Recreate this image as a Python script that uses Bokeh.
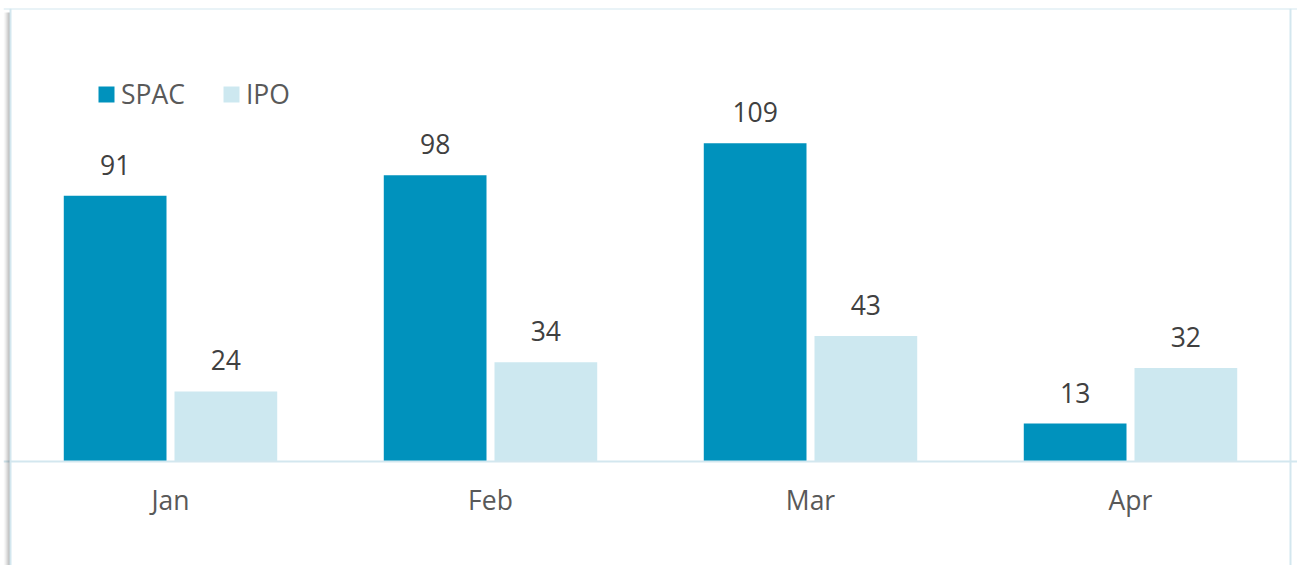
from bokeh.plotting import figure
from bokeh.models import (ColumnDataSource, FactorRange, Legend, LegendItem, Range1d,
                          Span, BoxAnnotation)
from bokeh.transform import dodge
from bokeh.core.properties import value
from bokeh.embed import file_html
from bokeh.resources import INLINE

months = ["Jan", "Feb", "Mar", "Apr"]
spac = [91, 98, 109, 13]
ipo = [24, 34, 43, 32]

SPAC_COLOR = "#0092BD"
IPO_COLOR = "#CDE8F0"
BORDER = "#D3E7EF"
FONT = "Open Sans"
FS = "26.5px"

source = ColumnDataSource(data=dict(
    month=months,
    spac=spac,
    ipo=ipo,
    spac_lbl=[str(v) for v in spac],
    ipo_lbl=[str(v) for v in ipo],
))

Y_END = 155.14
p = figure(
    x_range=FactorRange(factors=months, range_padding=0.021875, range_padding_units="absolute"),
    y_range=Range1d(-35.62, Y_END),
    width=1297, height=565,
    output_backend="svg", toolbar_location=None,
    y_axis_location=None,
    min_border_left=3, min_border_right=0, min_border_top=8, min_border_bottom=0,
    background_fill_color="white", border_fill_color="white",
)
p.outline_line_color = None
p.xgrid.visible = False
p.ygrid.visible = False

# soft shadow on the left of the chart box
for i, a in enumerate([0.02, 0.05, 0.09, 0.14, 0.20, 0.27, 0.33]):
    p.add_layout(BoxAnnotation(left=i, right=i + 1, top=553, bottom=0,
                               left_units="screen", right_units="screen",
                               top_units="screen", bottom_units="screen",
                               fill_color="black", fill_alpha=a, line_color=None))

# chart box borders (left, right, top)
for loc, dim in [(0, "height"), (len(months), "height"), (Y_END, "width")]:
    p.add_layout(Span(location=loc, dimension=dim, line_color=BORDER, line_width=2))

off = 0.173
bw = 0.321
r1 = p.vbar(x=dodge("month", -off, range=p.x_range), top="spac", width=bw,
            source=source, fill_color=SPAC_COLOR, line_color=None)
r2 = p.vbar(x=dodge("month", off, range=p.x_range), top="ipo", width=bw,
            source=source, fill_color=IPO_COLOR, line_color=None)

p.text(x=dodge("month", -off, range=p.x_range), y="spac", text="spac_lbl", source=source,
       y_offset=-31, text_align="center", text_baseline="alphabetic",
       text_font=value(FONT), text_font_size=FS, text_color="#404040")
p.text(x=dodge("month", off, range=p.x_range), y="ipo", text="ipo_lbl", source=source,
       y_offset=-31, text_align="center", text_baseline="alphabetic",
       text_font=value(FONT), text_font_size=FS, text_color="#404040")

xa = p.xaxis[0]
xa.fixed_location = 0
xa.axis_line_color = BORDER
xa.axis_line_width = 2
xa.major_tick_line_color = None
xa.minor_tick_line_color = None
xa.major_label_standoff = 15
xa.major_label_text_font = FONT
xa.major_label_text_font_size = FS
xa.major_label_text_color = "#595959"

legend = Legend(
    items=[LegendItem(label="SPAC", renderers=[r1]), LegendItem(label="IPO", renderers=[r2])],
    orientation="horizontal",
    location=(93, 453),
    padding=0, margin=0, spacing=36,
    glyph_width=20, glyph_height=20, label_standoff=5,
    label_text_font=FONT, label_text_font_size=FS, label_text_color="#595959",
    background_fill_alpha=0, border_line_color=None,
)
p.add_layout(legend)

open("out.html", "w").write(file_html(p, INLINE))
